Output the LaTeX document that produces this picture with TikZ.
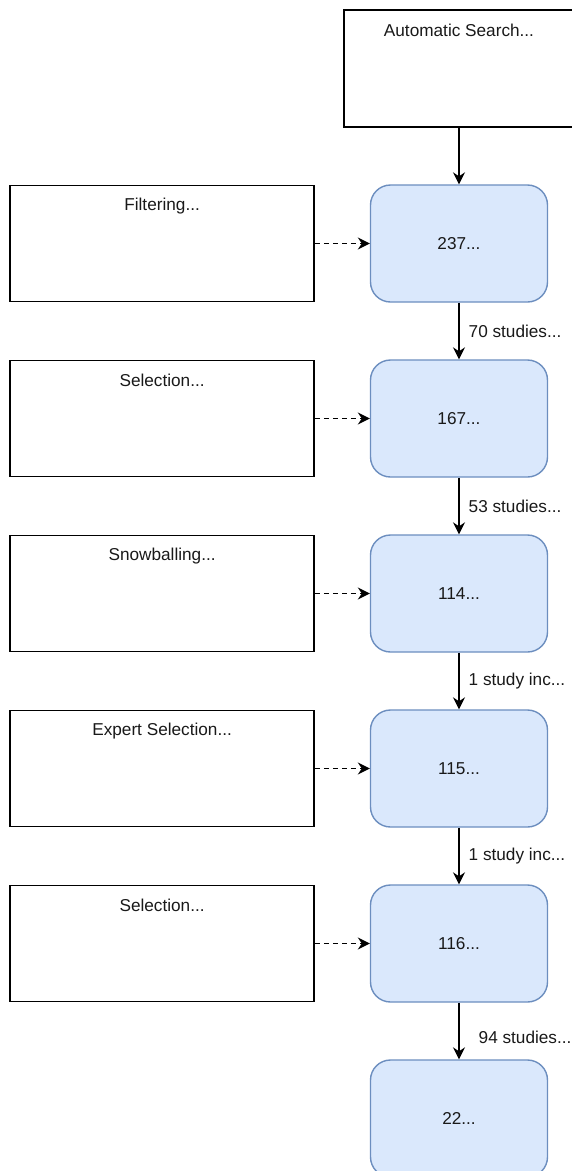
\documentclass[tikz,border=0pt]{standalone}
\usepackage{fontspec}
\setmainfont{Liberation Sans}
\usetikzlibrary{positioning,arrows.meta}
\definecolor{countfill}{HTML}{DAE8FC}
\definecolor{countdraw}{HTML}{6C8EBF}

\begin{document}
\begin{tikzpicture}[x=1pt,y=-1pt]
    \tikzstyle{txt}=[font=\fontsize{17.2}{20}\selectfont, text=black!90]
    \tikzstyle{count}=[txt, rectangle, rounded corners=20pt, draw=countdraw, fill=countfill, line width=1.4pt, minimum width=177pt, minimum height=117pt]
    \tikzstyle{phase}=[rectangle, draw, line width=1.4pt, minimum width=304pt, minimum height=116pt]
    \tikzstyle{title}=[txt, anchor=center, inner sep=0pt, yshift=-21pt]
    \tikzstyle{flow}=[line width=1.4pt, -{Stealth[length=12pt,width=12pt,inset=4pt]}]
    \tikzstyle{feed}=[flow, dash pattern=on 5pt off 4pt]
    \tikzstyle{tally}=[txt, right, inner sep=0pt, xshift=9pt]

    \useasboundingbox (0,0) rectangle (571,1171);

    \node[phase, minimum width=230pt, minimum height=117pt, label={[title]north:Automatic Search...}] (search) at (459,68.5) {};

    \node[count] (n237) at (459,243.5) {237...};
    \node[count, below=56.6pt of n237] (n167) {167...};
    \node[count, below=56.6pt of n167] (n114) {114...};
    \node[count, below=56.6pt of n114] (n115) {115...};
    \node[count, below=56.6pt of n115] (n116) {116...};
    \node[count, below=56.6pt of n116] (n22) {22...};

    \node[phase, left=55pt of n237, label={[title]north:Filtering...}] (filtering) {};
    \node[phase, left=55pt of n167, label={[title]north:Selection...}] (selection) {};
    \node[phase, left=55pt of n114, label={[title]north:Snowballing...}] (snowballing) {};
    \node[phase, left=55pt of n115, label={[title]north:Expert Selection...}] (expert) {};
    \node[phase, left=55pt of n116, label={[title]north:Selection...}] (final) {};

    \draw[flow] (search) -- (n237);
    \draw[flow] (n237) -- node[tally] {70 studies...} (n167);
    \draw[flow] (n167) -- node[tally] {53 studies...} (n114);
    \draw[flow] (n114) -- node[tally] {1 study inc...} (n115);
    \draw[flow] (n115) -- node[tally] {1 study inc...} (n116);
    \draw[flow] (n116) -- node[tally, xshift=10pt, yshift=-6pt] {94 studies...} (n22);

    \draw[feed] (filtering) -- (n237);
    \draw[feed] (selection) -- (n167);
    \draw[feed] (snowballing) -- (n114);
    \draw[feed] (expert) -- (n115);
    \draw[feed] (final) -- (n116);
\end{tikzpicture}
\end{document}
